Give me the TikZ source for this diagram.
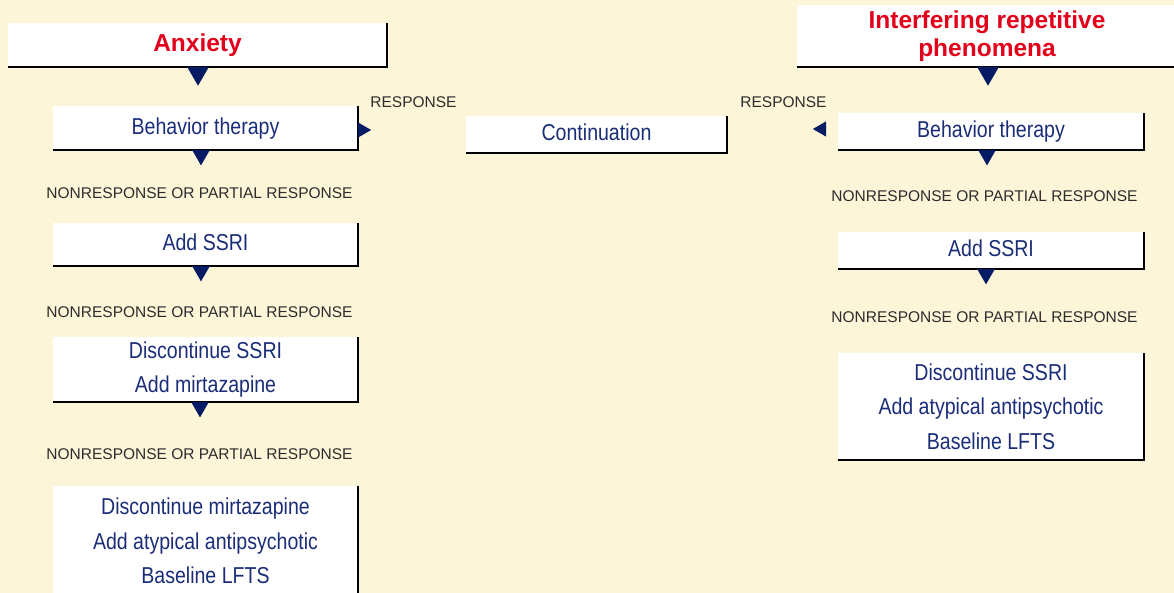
\documentclass[tikz,border=0pt]{standalone}
\usepackage{fontspec}
\setmainfont{Liberation Sans}
\newfontfamily\condfont{Liberation Sans}[FakeStretch=0.85]
\usetikzlibrary{shapes.geometric}

\definecolor{cream}{RGB}{253,245,215}
\definecolor{boxblue}{RGB}{27,45,120}
\definecolor{navy}{RGB}{5,28,100}
\definecolor{titlered}{RGB}{226,0,26}
\definecolor{labelgray}{RGB}{45,45,45}

\begin{document}
\begin{tikzpicture}[x=1pt, y=-1pt,
    stepbox/.style={fill=white, inner sep=0pt, outer sep=0pt, align=center, text=boxblue,
      font=\condfont\fontsize{23}{34.5}\selectfont},
    onebox/.style={stepbox, text depth=4.5pt},
    titlebox/.style={fill=white, inner sep=0pt, outer sep=0pt, align=center, text=titlered,
      font=\bfseries\fontsize{24.5}{28}\selectfont},
    lbl/.style={inner sep=0pt, text=labelgray, font=\fontsize{15.5}{18}\selectfont},
    rim/.style={draw=black, line width=1.5pt},
    tri/.style={regular polygon, regular polygon sides=3, fill=navy, draw=none,
      inner sep=0pt, outer sep=0pt, minimum size=20.5pt, shape border rotate=180, anchor=north},
    bigtri/.style={tri, minimum size=25pt},
    rtri/.style={tri, minimum size=17.5pt, shape border rotate=-90, anchor=west},
    ltri/.style={tri, minimum size=17.5pt, shape border rotate=90, anchor=east}
  ]

  % page and background
  \clip (0,0) rectangle (1174,593);
  \fill[cream] (0,0) rectangle (1174,593);

  % left column
  \node[titlebox, minimum width=379pt, minimum height=44pt] (anx) at (197.5,45) {Anxiety};
  \node[onebox, minimum width=305pt, minimum height=44pt] (btL) at (205.5,128) {Behavior therapy};
  \node[onebox, minimum width=305pt, minimum height=43pt] (ssriL) at (205.5,244.5) {Add SSRI};
  \node[stepbox, minimum width=305pt, minimum height=65pt] (mirL) at (205.5,369.5)
    {Discontinue SSRI\\Add mirtazapine};
  \node[stepbox, minimum width=305pt, minimum height=110pt] (lastL) at (205.5,541)
    {Discontinue mirtazapine\\Add atypical antipsychotic\\Baseline LFTS};

  % middle
  \node[onebox, minimum width=261pt, minimum height=37pt] (cont) at (596.5,134.5) {Continuation};

  % right column
  \node[titlebox, minimum width=380pt, minimum height=62pt] (irp) at (987,36)
    {Interfering repetitive\\phenomena};
  \node[onebox, minimum width=306pt, minimum height=37pt] (btR) at (991,131.5) {Behavior therapy};
  \node[onebox, minimum width=306pt, minimum height=37pt] (ssriR) at (991,250.5) {Add SSRI};
  \node[stepbox, minimum width=306pt, minimum height=107pt] (lastR) at (991,406.5)
    {Discontinue SSRI\\Add atypical antipsychotic\\Baseline LFTS};

  % bottom and right edges of the boxes
  \foreach \b in {anx,btL,ssriL,mirL,lastL,cont,irp,btR,ssriR,lastR} {
    \draw[rim] (\b.south west) -- (\b.south east) -- (\b.north east);
  }

  % labels
  \node[lbl] (respL) at (413.5,102) {RESPONSE};
  \node[lbl] (respR) at (783.5,102) {RESPONSE};
  \node[lbl] (nrL1) at (199.5,193) {NONRESPONSE OR PARTIAL RESPONSE};
  \node[lbl] (nrL2) at (199.5,312) {NONRESPONSE OR PARTIAL RESPONSE};
  \node[lbl] (nrL3) at (199.5,454) {NONRESPONSE OR PARTIAL RESPONSE};
  \node[lbl] (nrR1) at (984.5,196) {NONRESPONSE OR PARTIAL RESPONSE};
  \node[lbl] (nrR2) at (984.5,317) {NONRESPONSE OR PARTIAL RESPONSE};

  % arrow heads
  \node[bigtri] (tAnx) at (198,0 |- anx.south) {};
  \node[bigtri] (tIrp) at (988,0 |- irp.south) {};
  \node[tri] (tBtL) at (201,0 |- btL.south) {};
  \node[tri] (tSsriL) at (201,0 |- ssriL.south) {};
  \node[tri] (tMirL) at (200,0 |- mirL.south) {};
  \node[tri] (tBtR) at (987,0 |- btR.south) {};
  \node[tri] (tSsriR) at (986,0 |- ssriR.south) {};
  \node[rtri] (tResL) at (btL.east |- 0,130) {};
  \node[ltri] (tResR) at (826,129) {};

\end{tikzpicture}
\end{document}
